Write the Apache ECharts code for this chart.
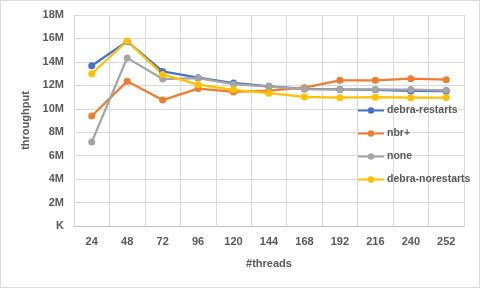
<!DOCTYPE html>
<html><head><meta charset="utf-8">
<script src="https://cdn.jsdelivr.net/npm/echarts@6/dist/echarts.min.js"></script>
<style>html,body{margin:0;padding:0;background:#fff}#c{width:480px;height:288px;box-sizing:border-box;border:1px solid #D9D9D9}</style>
</head><body><div id="c"></div>
<script>
var categories = ['24','48','72','96','120','144','168','192','216','240','252'];
var debraRestarts = [13.67e6, 15.75e6, 13.19e6, 12.65e6, 12.2e6, 11.92e6, 11.7e6, 11.65e6, 11.62e6, 11.52e6, 11.5e6];
var nbrPlus = [9.38e6, 12.34e6, 10.74e6, 11.72e6, 11.44e6, 11.55e6, 11.8e6, 12.43e6, 12.43e6, 12.57e6, 12.48e6];
var none = [7.16e6, 14.34e6, 12.54e6, 12.62e6, 12.1e6, 11.89e6, 11.67e6, 11.65e6, 11.65e6, 11.64e6, 11.58e6];
var debraNorestarts = [12.99e6, 15.78e6, 12.93e6, 12.06e6, 11.62e6, 11.33e6, 11.01e6, 10.95e6, 10.99e6, 10.95e6, 10.96e6];
var seriesNames = ['debra-restarts','nbr+','none','debra-norestarts'];
var colors = ['#4472C4','#ED7D31','#A5A5A5','#FFC000'];
var seriesData = [debraRestarts, nbrPlus, none, debraNorestarts];

var txt = {color:'#595959', fontFamily:'Liberation Sans, Arial, sans-serif', fontSize:11, fontWeight:'bold'};
var chart = echarts.init(document.getElementById('c'), null, {renderer:'canvas'});
chart.setOption({
  animation:false,
  color: colors,
  grid:{left:73, right:15, top:14, bottom:61},
  legend:{
    orient:'vertical', left:351, top:99, itemGap:12, itemWidth:26, itemHeight:8,
    data: seriesNames,
    textStyle: Object.assign({}, txt, {fontSize:10.5, padding:[0,0,0,-2]})
  },
  xAxis:{
    type:'category', data:categories, boundaryGap:true,
    name:'#threads', nameLocation:'middle', nameGap:32,
    nameTextStyle: Object.assign({}, txt, {fontSize:11}),
    axisLine:{lineStyle:{color:'#BFBFBF', width:1}},
    axisTick:{show:false},
    axisLabel: Object.assign({}, txt, {margin:10}),
    splitLine:{show:true, lineStyle:{color:'#D9D9D9', width:1}}
  },
  yAxis:{
    type:'value', min:0, max:18e6, interval:2e6,
    name:'throughput', nameLocation:'middle', nameGap:40, nameRotate:90,
    nameTextStyle: Object.assign({}, txt, {fontSize:11}),
    axisLine:{show:false}, axisTick:{show:false},
    axisLabel: Object.assign({}, txt, {margin:10, formatter:function(v){return v===0?'K':(v/1e6)+'M';}}),
    splitLine:{lineStyle:{color:'#D9D9D9', width:1}}
  },
  series: seriesData.map(function(d,i){
    return {name:seriesNames[i], type:'line', data:d, symbol:'circle', symbolSize:7,
      lineStyle:{width:2.25, color:colors[i]}, itemStyle:{color:colors[i]}};
  })
});
</script></body></html>
